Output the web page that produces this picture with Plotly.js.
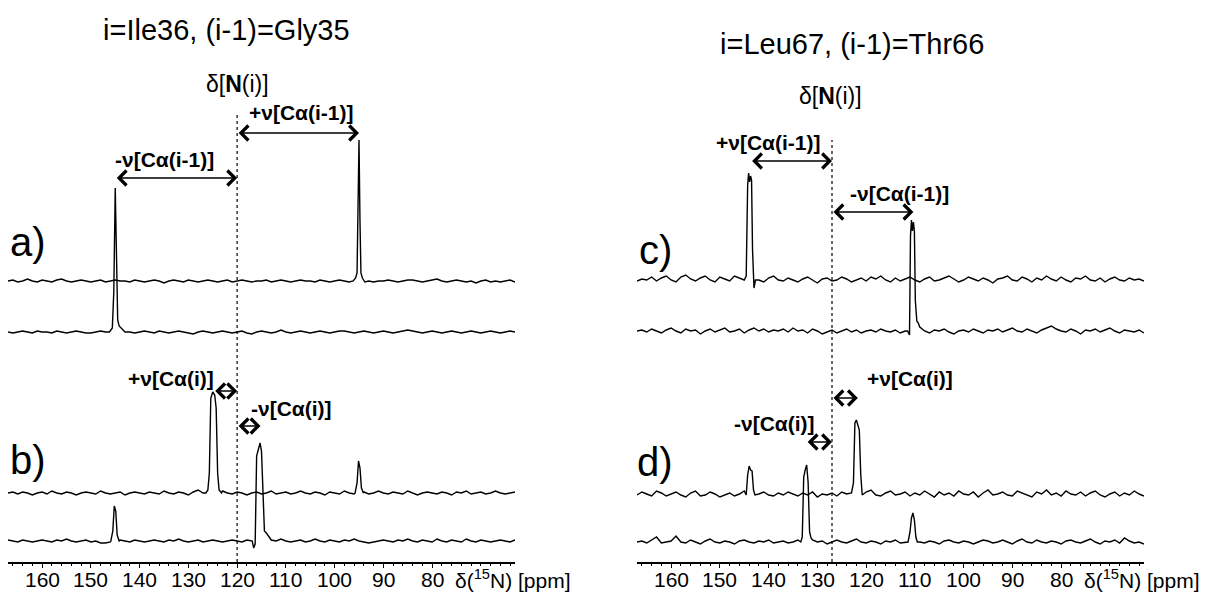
<!DOCTYPE html>
<html><head><meta charset="utf-8">
<script src="https://cdn.plot.ly/plotly-3.0.1.min.js"></script>
<style>html,body{margin:0;padding:0;background:#fff}#chart{width:1214px;height:595px}</style>
</head><body><div id="chart"></div>
<script>
// ---------- data ----------
const gridStart = 167;   // ppm, first baseline sample
const gridCount = 105;   // samples, 1 ppm apart
const tickValues = [160,150,140,130,120,110,100,90,80,70];
const tickLabels = ['160','150','140','130','120','110','100','90','80',''];

const titleLeft = 'i=Ile36, (i-1)=Gly35';
const titleRight = 'i=Leu67, (i-1)=Thr66';

// chemical shifts / couplings
const dN_left = 120, nuPrev_left = 25, nuSelf_left = 4.8;
const dN_right = 127, nuPrev_right = 16.7, nuSelf_right = 5.3;

// baseline noise (1 ppm steps from 167 ppm)
const a1Noise = [0,1,-1,0,2,0,-1,1,0,-1,1,2,0,-1,0, 1,0,-1,0,1,-1,0,1,0,0,-1,1,0,-1,0, 1,0,-2,0,1,0,-1,1,0,-1,0,1,0,-1,0, 1,-1,0,1,0,-1,0,0,1,-1,0,1,0,-1,0, 1,0,0,-1,1,0,-1,0,1,0,-1,-1,0,1,0, -1,0,0,1,0,-1,0,1,1,0,-1,0,1,2,0, -1,0,1,0,-1,0,-2,0,1,-1,0,-1,0,1,-1];
const a2Noise = [0,-1,0,1,0,-1,1,0,0,-1,1,0,-1,0,1, 0,-1,-1,0,1,0,-1,0,1,0,0,-1,0,1,0, -1,1,0,-1,0,1,0,-1,-2,0,1,0,-1,0,1, 0,-1,0,1,-1,-2,0,1,0,-1,0,2,0,-1,0, 1,0,-1,0,1,0,-1,0,1,1,0,-1,0,1,0, -1,0,1,0,-1,0,1,2,1,0,-1,0,1,0,-1, 0,1,0,-1,0,1,0,-1,0,1,0,-1,0,1,0];
const b1Noise = [0,1,-1,1,0,-2,0,1,-1,2,0,-1,1,0,-2, 0,1,0,-1,2,0,-1,0,1,-2,0,1,0,-1,1, 0,-1,2,0,-1,1,0,-2,1,3,0,-1,1,0,2, 0,-1,1,0,-2,0,1,-1,0,2,-1,0,1,-1,0, 2,0,-1,1,0,-2,1,0,-1,2,0,-1,0,1,-1, 0,2,0,-1,1,0,-1,2,0,-2,0,1,0,-1,1, 0,-2,1,0,2,-1,0,1,-1,0,2,0,-1,0,1];
const b2Noise = [1,0,-1,1,0,-1,0,1,0,-1,1,0,2,0,-1, 0,1,-1,0,-2,-2,-1,0,1,0,-1,1,0,-1,0, 1,0,-1,1,0,2,0,-1,0,1,-1,0,1,0,-1, 0,1,0,-1,1,0,3,0,-1,1,0,2,0,-1,0, 1,-1,0,2,0,-1,1,0,-1,1,0,2,0,-1,-2, -1,0,1,0,-1,1,0,2,0,-1,1,0,-1,2,0, -1,1,0,-1,2,0,-1,1,0,-1,0,1,0,-1,1];
const c1Noise = [-1,1,0,3,-1,2,4,0,-2,3,5,1,-1,2,4, 0,-2,3,1,-1,4,2,-1,1,3,0,-2,2,4,0, -1,2,0,-2,1,3,0,-3,1,2,-1,0,3,1,-2, 0,2,-1,3,1,4,0,-2,2,-1,1,3,0,-2,1, 3,-1,0,2,4,1,-2,0,3,1,-1,2,0,-3,1, 2,4,0,-1,3,1,-2,2,0,4,1,-1,3,0,-2, 2,1,4,0,-1,2,-2,1,3,0,-1,2,0,1,-1];
const c2Noise = [0,1,-1,2,0,-2,1,3,0,-2,2,0,1,-3,0, 2,-1,1,3,-1,0,2,-2,1,3,0,2,-1,1,0, 2,-1,3,0,1,-2,2,0,-3,-1,1,-2,0,2,-1, 1,-2,0,1,-1,2,0,-1,1,-2,0,2,-1,1,0, -2,1,0,2,-1,-3,0,1,-1,2,0,-2,1,0,2, -1,1,3,0,-1,2,0,-2,1,3,5,2,0,-1,2, 0,-3,1,0,2,-1,1,3,0,-2,1,0,-1,1,-2];
const d1Noise = [0,3,1,-1,4,2,-1,1,3,0,-2,2,4,-1,0, 3,1,-2,0,2,-1,1,4,0,-2,1,3,0,-1,2, 0,3,1,-1,2,0,3,-2,1,0,2,-1,3,1,0, 2,-1,3,5,0,-1,2,4,0,1,3,-1,2,0,4, 1,-2,3,0,2,-1,4,1,0,3,-2,2,5,0,1, 3,0,-1,4,2,0,-2,3,1,5,0,2,-1,4,1, 0,3,-1,2,4,0,-2,1,3,-1,2,0,4,1,-1];
const d2Noise = [0,1,-1,2,5,-1,0,1,6,0,-1,2,0,-2,1, 3,0,-1,1,0,-2,1,2,0,-1,1,0,2,-1,0, 1,-1,0,2,1,-1,2,0,1,-2,0,2,0,-1,1, 3,0,-1,1,0,-2,1,0,2,-1,0,1,3,0,-1, 1,0,-2,1,2,0,-1,1,0,-2,0,2,1,-1,0, 2,0,-2,1,3,0,-1,2,0,-1,1,0,-2,1,2, 0,-1,1,3,0,-2,1,0,2,-1,4,1,-1,0,-2];

// peaks: [ppm, height]
const a1Peaks = [[[96.2,0],[95.7,3],[95.4,8],[95.2,60],[95.0,141],[94.8,60],[94.6,8],[94.3,3],[93.8,-1]]];
const a2Peaks = [[[146.2,0],[145.6,4],[145.3,40],[145.0,144],[144.8,80],[144.5,12],[144.2,6],[143.8,4],[143.3,2]]];
const b1Peaks = [[[126.4,0],[126.0,3],[125.7,20],[125.4,95],[125.0,101],[124.6,98],[124.3,85],[124.0,20],[123.7,3],[123.2,0]],
                 [[95.8,0],[95.4,10],[95.1,32],[94.8,25],[94.5,5],[94.1,0]]];
const b2Peaks = [[[145.9,0],[145.5,10],[145.2,35],[144.9,30],[144.6,6],[144.2,0]],
                 [[116.9,0],[116.6,-7],[116.3,-3],[116.0,85],[115.7,92],[115.3,98],[115.0,90],[114.7,40],[114.4,10],[114.0,8],[113.6,5],[113.2,2]]];
const c1Peaks = [[[145.0,0],[144.6,4],[144.3,95],[144.1,107],[143.9,98],[143.7,104],[143.5,100],[143.3,30],[143.0,-8],[142.7,0]]];
const c2Peaks = [[[111.5,0],[111.1,-4],[110.9,95],[110.7,111],[110.5,100],[110.3,109],[110.1,100],[109.9,30],[109.6,10],[109.3,8],[109.0,4]]];
const d1Peaks = [[[144.6,0],[144.3,20],[144.0,29],[143.7,25],[143.4,24],[143.1,5],[142.8,0]],
                 [[123.0,2],[122.6,12],[122.3,72],[122.0,75],[121.7,70],[121.4,65],[121.1,20],[120.8,0]]];
const d2Peaks = [[[133.4,0],[133.1,5],[132.8,65],[132.5,72],[132.2,77],[131.9,60],[131.6,10],[131.3,4]],
                 [[111.4,0],[111.0,10],[110.7,24],[110.4,29],[110.1,22],[109.8,5],[109.5,0]]];

// ---------- layout constants ----------
const W = 1214, H = 595;
const axisY = 562;             // px of x-axis line
const topY = 100;              // px of plot top
const labelY = 579;            // px of tick-label centres
const yRange = axisY - topY;   // 1 unit = 1 px
const offsets = {a1:281, a2:230, b1:69, b2:21, c1:282, c2:231, d1:67, d2:20};

function buildTrace(noise, peaks, offset, xa, ya){
  const wins = peaks.map(g => [Math.min(...g.map(p=>p[0])), Math.max(...g.map(p=>p[0]))]);
  let pts = [];
  for (let i=0;i<gridCount && i<noise.length;i++){
    const x = gridStart - i;
    if (wins.some(w => x>=w[0] && x<=w[1])) continue;
    pts.push([x, noise[i]]);
  }
  peaks.forEach(g => g.forEach(p => pts.push(p)));
  pts.sort((a,b)=>b[0]-a[0]);
  return {x: pts.map(p=>p[0]), y: pts.map(p=>p[1]+offset), type:'scatter', mode:'lines',
    line:{color:'#000', width:1.4}, xaxis:xa, yaxis:ya, hoverinfo:'skip'};
}

const data = [
  buildTrace(a1Noise, a1Peaks, offsets.a1, 'x', 'y'),
  buildTrace(a2Noise, a2Peaks, offsets.a2, 'x', 'y'),
  buildTrace(b1Noise, b1Peaks, offsets.b1, 'x', 'y'),
  buildTrace(b2Noise, b2Peaks, offsets.b2, 'x', 'y'),
  buildTrace(c1Noise, c1Peaks, offsets.c1, 'x2', 'y2'),
  buildTrace(c2Noise, c2Peaks, offsets.c2, 'x2', 'y2'),
  buildTrace(d1Noise, d1Peaks, offsets.d1, 'x2', 'y2'),
  buildTrace(d2Noise, d2Peaks, offsets.d2, 'x2', 'y2')
];

const FONT = 'Liberation Sans, Arial, Helvetica, sans-serif';
const axisStyle = {
  range:[gridStart, gridStart-gridCount+1], showline:true, linecolor:'#000', linewidth:1.5,
  ticks:'outside', ticklen:4, tickwidth:1.2, tickcolor:'#000',
  tickmode:'array', tickvals:tickValues, ticktext:tickLabels, showticklabels:false,
  showgrid:false, zeroline:false, fixedrange:true,
  minor:{ticks:'outside', ticklen:2.5, tickwidth:1, tickcolor:'#000', tickmode:'linear', tick0:0, dtick:2, showgrid:false}
};
const yStyle = {range:[0, yRange], visible:false, fixedrange:true, domain:[(H-axisY)/H, (H-topY)/H]};

function yv(px){ return axisY - px; }
function lbl(xa, ya, x, y, text, size, bold){
  return {xref:xa, yref:ya, x:x, y:y, text:text, showarrow:false, xanchor:'center', yanchor:'middle',
    font:{family:FONT, size:size, color:'#000', weight: bold ? 'bold' : 'normal'}};
}
function ptext(px, py, text, size){
  return {xref:'paper', yref:'paper', x:px/W, y:(H-py)/H, text:text, showarrow:false,
    xanchor:'center', yanchor:'middle', font:{family:FONT, size:size, color:'#000'}};
}
function arrow(xa, ya, x0, x1, y){
  return {xref:xa, yref:ya, axref:xa, ayref:ya, x:x1, y:y, ax:x0, ay:y, text:'', showarrow:true,
    arrowside:'end+start', arrowhead:4, startarrowhead:4, arrowsize:1.8, startarrowsize:1.8,
    arrowwidth:1.6, arrowcolor:'#000'};
}
function tickLabelAnns(xa){
  const out = [];
  tickValues.forEach((v,i) => {
    if (!tickLabels[i]) return;
    out.push({xref:xa, yref:'paper', x:v, y:(H-labelY)/H, text:tickLabels[i], showarrow:false,
      xanchor:'center', yanchor:'middle', font:{family:FONT, size:21, color:'#000'}});
  });
  out.push({xref:xa, yref:'paper', x:75.8, y:(H-labelY)/H, xanchor:'left', yanchor:'middle',
    text:'δ(<sup>15</sup>N) [ppm]', showarrow:false, font:{family:FONT, size:21, color:'#000'}});
  return out;
}

const annotations = [
  ptext(226, 30, titleLeft, 29),
  ptext(852, 44, titleRight, 29),
  // left panel
  ptext(237, 84, 'δ[<b>N</b>(i)]', 23),
  lbl('x','y', 106.7, yv(113), '+ν[Cα(i-1)]', 21, true),
  arrow('x','y', dN_left, dN_left-nuPrev_left, yv(133)),
  lbl('x','y', 135.0, yv(160), '-ν[Cα(i-1)]', 21, true),
  arrow('x','y', dN_left+nuPrev_left, dN_left, yv(178)),
  lbl('x','y', 133.6, yv(378), '+ν[Cα(i)]', 21, true),
  arrow('x','y', dN_left+nuSelf_left, dN_left, yv(391)),
  lbl('x','y', 108.9, yv(408), '-ν[Cα(i)]', 21, true),
  arrow('x','y', dN_left, dN_left-nuSelf_left, yv(426)),
  ptext(28, 242, 'a)', 40),
  ptext(28, 460, 'b)', 40),
  // right panel
  ptext(830, 96, 'δ[<b>N</b>(i)]', 23),
  lbl('x2','y2', 140.1, yv(143), '+ν[Cα(i-1)]', 21, true),
  arrow('x2','y2', dN_right+nuPrev_right, dN_right, yv(161)),
  lbl('x2','y2', 113.1, yv(194), '-ν[Cα(i-1)]', 21, true),
  arrow('x2','y2', dN_right, dN_right-nuPrev_right, yv(212)),
  lbl('x2','y2', 111.0, yv(378), '+ν[Cα(i)]', 21, true),
  arrow('x2','y2', dN_right, dN_right-nuSelf_right, yv(398)),
  lbl('x2','y2', 138.7, yv(423), '-ν[Cα(i)]', 21, true),
  arrow('x2','y2', dN_right+nuSelf_right, dN_right, yv(442)),
  ptext(655, 250, 'c)', 40),
  ptext(655, 462, 'd)', 40)
].concat(tickLabelAnns('x'), tickLabelAnns('x2'));

const shapes = [
  {type:'line', xref:'x', yref:'y', x0:dN_left, x1:dN_left, y0:0, y1:yv(115), line:{color:'#000', width:1.2, dash:'dot'}},
  {type:'line', xref:'x2', yref:'y2', x0:dN_right, x1:dN_right, y0:0, y1:yv(140), line:{color:'#000', width:1.2, dash:'dot'}}
];

const layout = {
  width:W, height:H, margin:{l:0, r:0, t:0, b:0}, showlegend:false,
  paper_bgcolor:'#fff', plot_bgcolor:'rgba(0,0,0,0)',
  font:{family:FONT, color:'#000'},
  xaxis: Object.assign({}, axisStyle, {domain:[8/W, 515/W], anchor:'y'}),
  yaxis: Object.assign({}, yStyle, {anchor:'x'}),
  xaxis2: Object.assign({}, axisStyle, {domain:[637/W, 1144/W], anchor:'y2'}),
  yaxis2: Object.assign({}, yStyle, {anchor:'x2'}),
  annotations: annotations, shapes: shapes
};

Plotly.newPlot('chart', data, layout, {staticPlot:true, displayModeBar:false});
</script></body></html>
